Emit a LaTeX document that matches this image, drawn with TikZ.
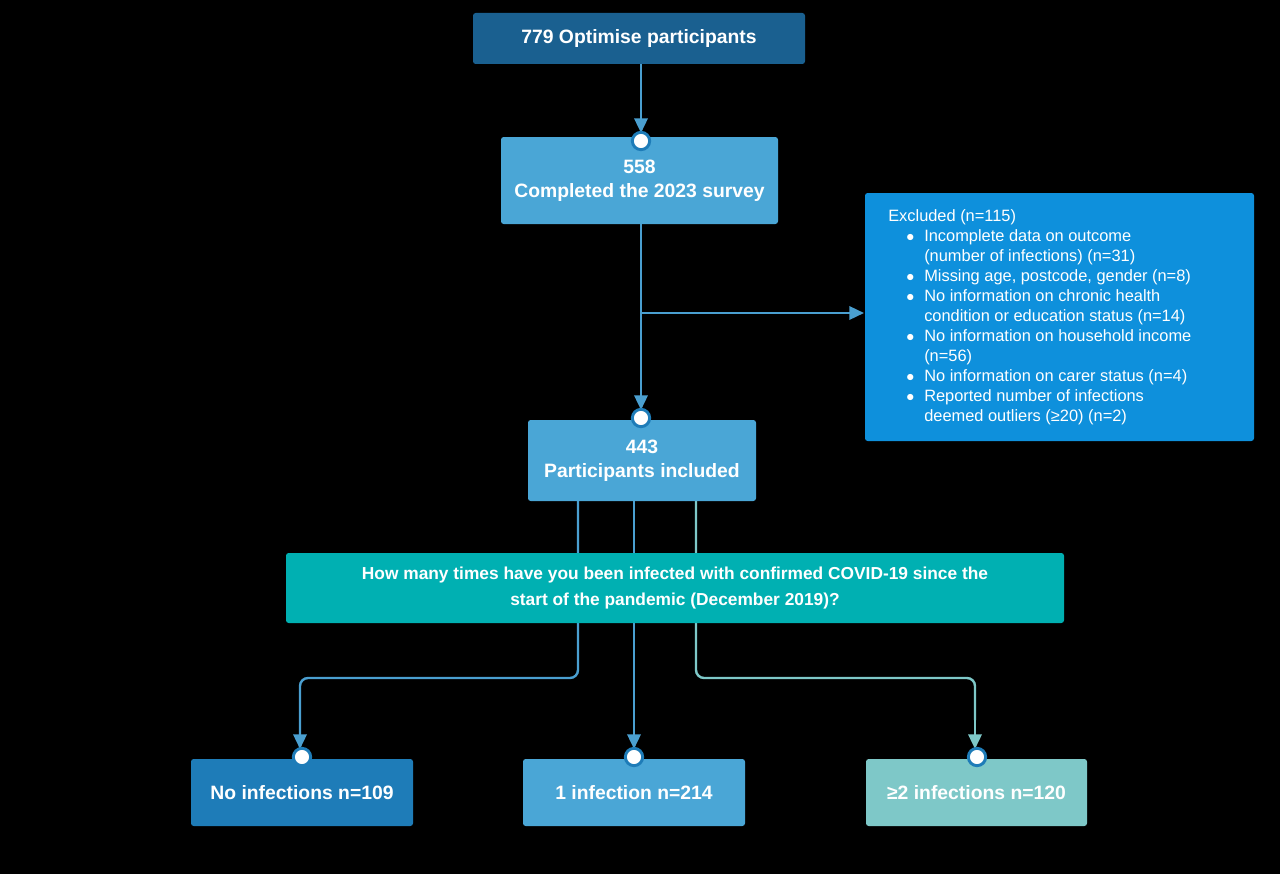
\documentclass[tikz,border=0pt]{standalone}
\usepackage{fontspec}
\setmainfont{Liberation Sans}
\usetikzlibrary{arrows.meta}
\definecolor{dkb}{HTML}{1A6090}
\definecolor{mdb}{HTML}{4AA6D6}
\definecolor{exb}{HTML}{0E90DC}
\definecolor{teal}{HTML}{00B0B2}
\definecolor{nob}{HTML}{1E7CB8}
\definecolor{ltt}{HTML}{7EC8C8}
\definecolor{ln}{HTML}{4A9FD0}
\newdimen\px \px=0.75pt
\begin{document}
\begin{tikzpicture}[x=0.75pt,y=-0.75pt,
 box/.style={fill=#1,rounded corners=2pt,inner sep=0pt,text=white,font=\bfseries\fontsize{14.5}{18}\selectfont,align=center},
 con/.style={draw=ln,line width=1.8pt,rounded corners=6pt},
 arr/.style={con,-{Triangle[length=11pt,width=10pt]}},
 dot/.style={circle,fill=white,draw=nob,line width=2.2pt,minimum size=13pt,inner sep=0pt}]
\fill[black] (0,0) rectangle (1280,874);
\useasboundingbox (0,0) rectangle (1280,874);
% connectors first
\coordinate (j1) at (641,313);
\draw[arr] (641,64) -- (641,133);
\draw[con] (641,224) -- (641,420);
\draw[arr] (j1) -- (864,313);
\draw[arr] (641,300) -- (641,410);
\draw[con] (578,501) -- (578,678) -- (300,678) -- (300,751);
\draw[arr] (300,700) -- (300,749);
\draw[arr] (634,501) -- (634,749);
\draw[con,draw=ltt] (696,501) -- (696,678) -- (975,678) -- (975,720);
\draw[arr,draw=ltt] (975,700) -- (975,749);
% boxes
\node[box=dkb,minimum width=332\px,minimum height=51\px] (a) at (639,38.5) {779 Optimise participants};
\node[box=mdb,minimum width=277\px,minimum height=87\px] (b) at (639.5,180.5) {558\\Completed the 2023 survey};
\node[fill=exb,rounded corners=2pt,minimum width=389\px,minimum height=248\px,inner sep=0pt] (ex) at (1059.5,317) {};
\node[text=white,anchor=north west,align=left,font=\fontsize{12.3}{15}\selectfont,inner sep=0pt] (ext) at (888,209) {Excluded (n=115)};
\node[text=white,anchor=north west,align=left,font=\fontsize{12.3}{15}\selectfont,inner sep=0pt] (exl) at (906,229)
{\makebox[18\px][l]{$\bullet$}Incomplete data on outcome\\\hspace*{18\px}(number of infections) (n=31)\\\makebox[18\px][l]{$\bullet$}Missing age, postcode, gender (n=8)\\\makebox[18\px][l]{$\bullet$}No information on chronic health\\\hspace*{18\px}condition or education status (n=14)\\\makebox[18\px][l]{$\bullet$}No information on household income\\\hspace*{18\px}(n=56)\\\makebox[18\px][l]{$\bullet$}No information on carer status (n=4)\\\makebox[18\px][l]{$\bullet$}Reported number of infections\\\hspace*{18\px}deemed outliers (≥20) (n=2)};
\node[box=mdb,minimum width=228\px,minimum height=81\px] (c) at (642,460.5) {443\\Participants included};
\node[box=teal,minimum width=778\px,minimum height=70\px,font=\bfseries\fontsize{13}{20}\selectfont] (q) at (675,588) {How many times have you been infected with confirmed COVID-19 since the\\start of the pandemic (December 2019)?};
\node[box=nob,minimum width=222\px,minimum height=67\px] (n0) at (302,792.5) {No infections n=109};
\node[box=mdb,minimum width=222\px,minimum height=67\px] (n1) at (634,792.5) {1 infection n=214};
\node[box=ltt,minimum width=221\px,minimum height=67\px] (n2) at (976.5,792.5) {≥2 infections n=120};
\node[dot] (d1) at (641,141) {};
\node[dot] (d2) at (641,418) {};
\node[dot] (d3) at (302,757) {};
\node[dot] (d4) at (634,757) {};
\node[dot] (d5) at (977,757) {};
\end{tikzpicture}
\end{document}
